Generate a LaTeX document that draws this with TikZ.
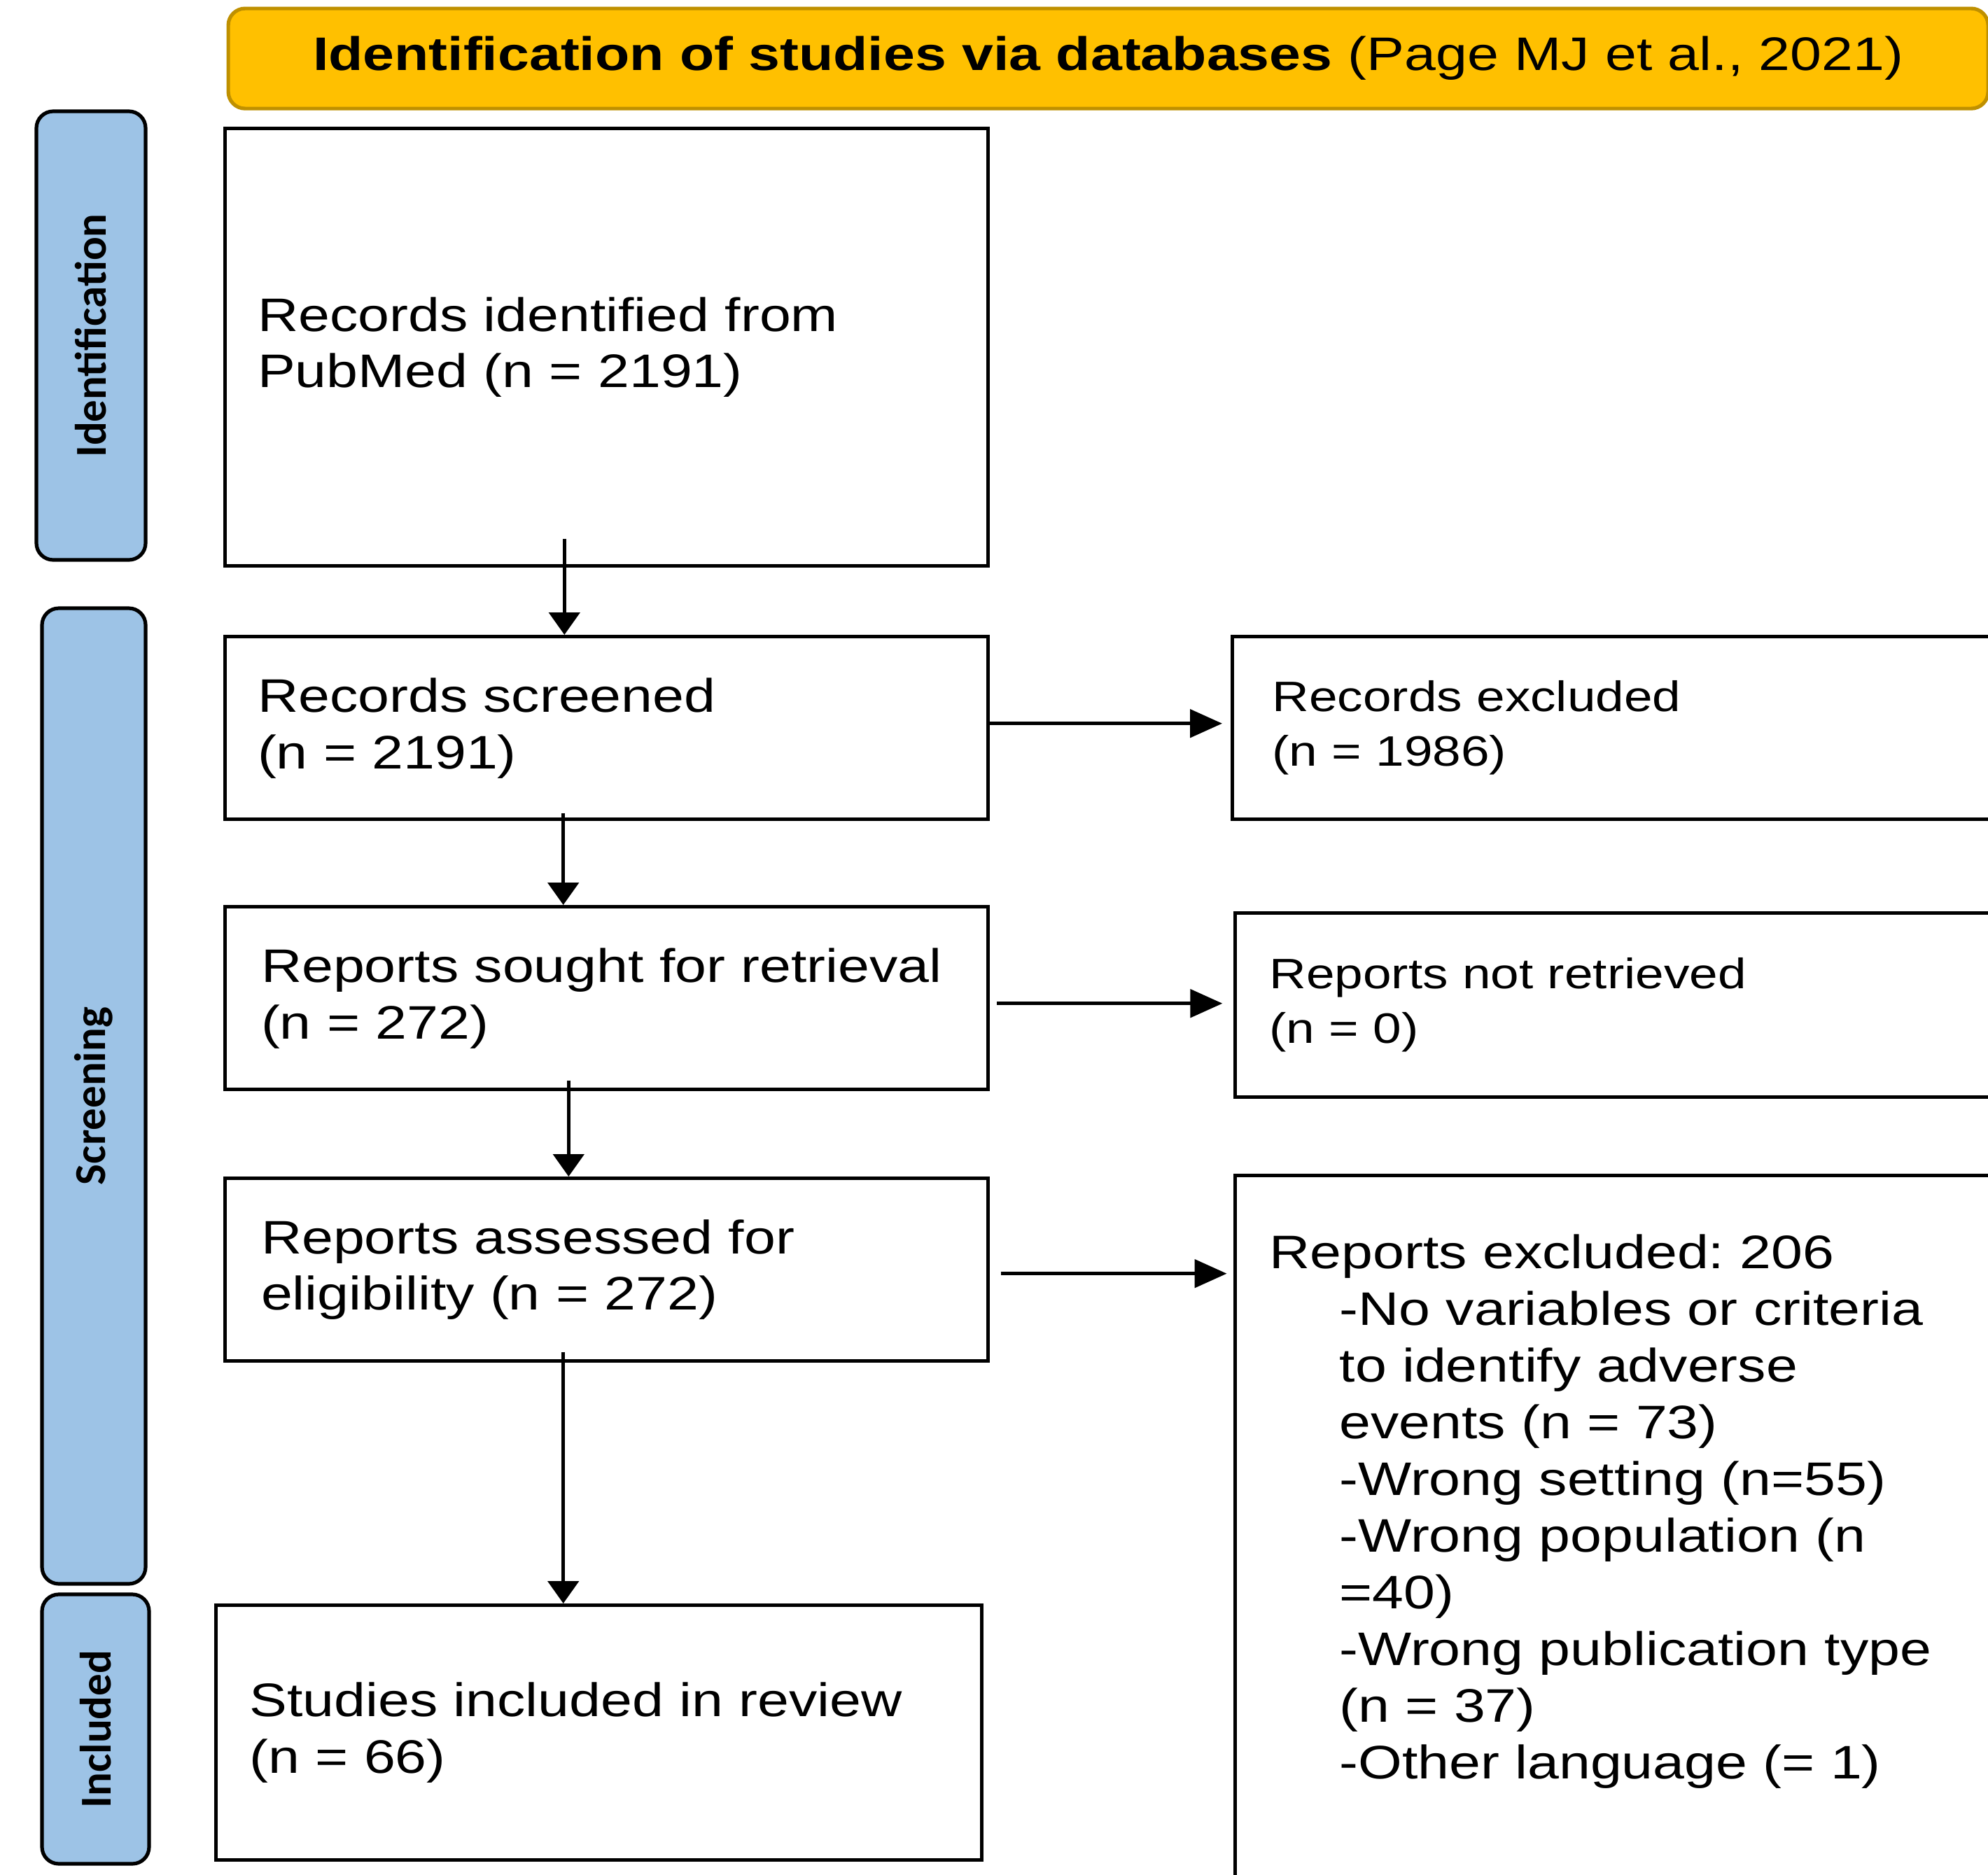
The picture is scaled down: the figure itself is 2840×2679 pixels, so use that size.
\documentclass[tikz,border=0pt]{standalone}
\usepackage{fontspec}
\setmainfont{Liberation Sans}[FakeStretch=1.2]
\newfontfamily\sidefont{Carlito}
\usetikzlibrary{arrows.meta}
\definecolor{headgold}{HTML}{FFC000}
\definecolor{headedge}{HTML}{BF9000}
\definecolor{stageblue}{HTML}{9DC3E6}
\newcommand{\mainsize}{\fontsize{16.8pt}{20.25pt}\selectfont}
\newcommand{\smallsize}{\fontsize{15.2pt}{19.5pt}\selectfont}
\newcommand{\ind}{\hspace*{25pt}}
\frenchspacing

\begin{document}
\begin{tikzpicture}[x=0.25pt, y=-0.25pt,
    stage/.style={draw=black, line width=1.3pt, fill=stageblue, rounded corners=6pt,
        rotate=90, inner sep=0pt, font=\sidefont\bfseries\fontsize{15.75pt}{18pt}\selectfont},
    flowbox/.style={draw=black, line width=1.3pt, anchor=north west, align=left,
        inner ysep=0pt, font=\mainsize},
    varrow/.style={line width=1.3pt, -{Triangle[length=8pt,width=11pt]}},
    harrow/.style={line width=1.3pt, -{Triangle[length=11.5pt,width=10pt]}}]

    % page
    \useasboundingbox (0,0) rectangle (2840,2679);
    \clip (0,0) rectangle (2840,2679);

    % header
    \node[draw=headedge, fill=headgold, line width=1.3pt, rounded corners=6pt, anchor=north west,
        minimum width=628.5pt, minimum height=35.75pt, inner sep=0pt, font=\mainsize] (head)
        at (323.5,9.5) {\textbf{Identification of studies via databases} (Page MJ et al., 2021)};

    % stage labels
    \node[stage, minimum width=160.25pt, minimum height=39pt] (stgident) at (130,479.5) {Identification};
    \node[stage, minimum width=348.5pt, minimum height=37pt] (stgscreen) at (134,1566) {Screening};
    \node[stage, minimum width=96.25pt, minimum height=38.25pt] (stgincl) at (136.5,2470.5) {Included};

    % main column
    \node[flowbox, inner xsep=11.75pt, text width=249.1pt, minimum height=156.25pt] (idrec)
        at (318.5,181) {Records identified from\\PubMed (n = 2191)};
    \node[flowbox, inner xsep=11.75pt, text width=249.1pt, minimum height=65.25pt] (screened)
        at (318.5,907) {Records screened\\(n = 2191)};
    \node[flowbox, inner xsep=13pt, text width=246.6pt, minimum height=65.25pt] (sought)
        at (318.5,1293) {Reports sought for retrieval\\(n = 272)};
    \node[flowbox, inner xsep=13pt, text width=246.6pt, minimum height=65.25pt] (assessed)
        at (318.5,1681) {Reports assessed for\\eligibility (n = 272)};
    \node[flowbox, inner xsep=12pt, text width=249.4pt, minimum height=91pt] (included)
        at (306,2291) {Studies included in review\\(n = 66)};

    % exclusions
    \node[flowbox, inner xsep=14.25pt, text width=247pt, minimum height=65.25pt, font=\smallsize] (excl)
        at (1758,907) {Records excluded\\(n = 1986)};
    \node[flowbox, inner xsep=12.25pt, text width=250pt, minimum height=65.75pt, font=\smallsize] (notret)
        at (1762,1302) {Reports not retrieved\\(n = 0)};
    \node[flowbox, inner xsep=12.25pt, inner ysep=21pt, text width=250pt, text depth=206pt] (rptexcl)
        at (1762,1677) {Reports excluded: 206\\
        \ind-No variables or criteria\\
        \ind to identify adverse\\
        \ind events (n = 73)\\
        \ind-Wrong setting (n=55)\\
        \ind-Wrong population (n\\
        \ind=40)\\
        \ind-Wrong publication type\\
        \ind(n = 37)\\
        \ind-Other language (= 1)};

    % arrows down
    \draw[varrow] ([xshift=-15pt,yshift=10.4pt]idrec.south) -- ([xshift=-15pt]screened.north);
    \draw[varrow] ([xshift=-15.4pt,yshift=2.9pt]screened.south) -- ([xshift=-15.4pt]sought.north);
    \draw[varrow] ([xshift=-13.5pt,yshift=3.9pt]sought.south) -- ([xshift=-13.5pt]assessed.north);
    \draw[varrow] ([xshift=-15.4pt,yshift=3.9pt]assessed.south) -- ([xshift=-15.4pt]assessed.south |- included.north);

    % arrows right
    \draw[harrow, shorten >=3pt] ([yshift=1.6pt]screened.east) -- ([yshift=1.6pt]screened.east -| excl.west);
    \draw[harrow, shorten <=2.5pt, shorten >=3.9pt] ([yshift=-1.9pt]sought.east) -- ([yshift=-1.9pt]sought.east -| notret.west);
    \draw[harrow, shorten <=3.9pt, shorten >=2.35pt] ([yshift=-1.4pt]assessed.east) -- ([yshift=-1.4pt]assessed.east -| rptexcl.west);
\end{tikzpicture}
\end{document}
